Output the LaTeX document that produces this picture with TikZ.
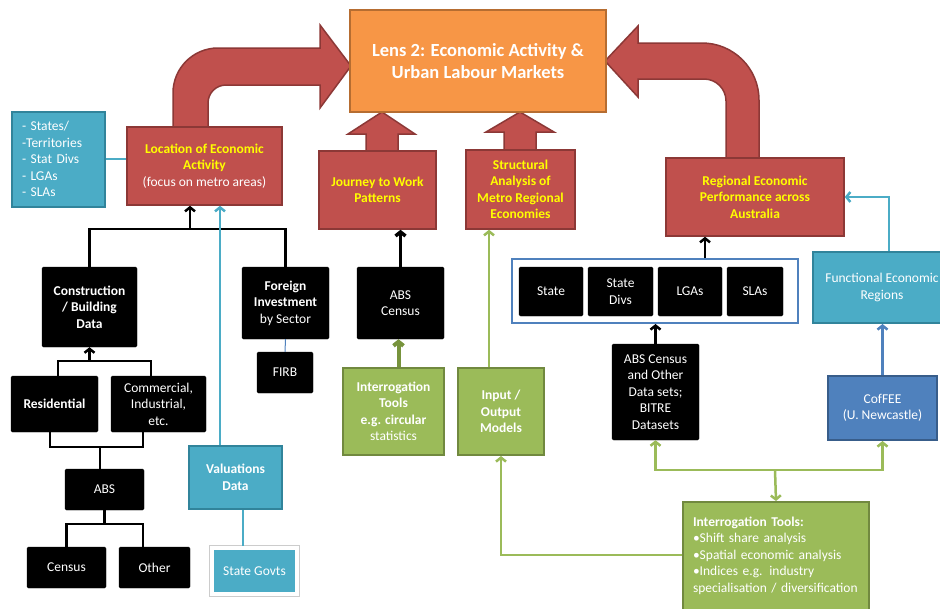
\documentclass[tikz,border=0pt]{standalone}
\usepackage{fontspec}
\setmainfont{Carlito}
\usetikzlibrary{arrows.meta}
\definecolor{redF}{HTML}{C0504D}
\definecolor{redD}{HTML}{8C3836}
\definecolor{orF}{HTML}{F79646}
\definecolor{orD}{HTML}{B66D31}
\definecolor{teF}{HTML}{4BACC6}
\definecolor{teD}{HTML}{31849B}
\definecolor{grF}{HTML}{9BBB59}
\definecolor{grD}{HTML}{71893F}
\definecolor{olv}{HTML}{77933C}
\definecolor{blF}{HTML}{4F81BD}
\definecolor{blD}{HTML}{385D8A}
\definecolor{yel}{HTML}{FFFF00}
\newcommand{\bxfont}{\fontsize{13.5}{16.5}\selectfont}
\begin{document}
\begin{tikzpicture}[x=1pt,y=-1pt,
  every node/.style={font=\bxfont, inner sep=2pt, align=center},
  redbox/.style={fill=redF, draw=redD, line width=1.5pt, text=yel, font=\bfseries\bxfont},
  orbox/.style={fill=orF, draw=orD, line width=1.5pt, text=white, font=\bfseries\fontsize{18.5}{22}\selectfont},
  tealbox/.style={fill=teF, draw=teD, line width=2pt, text=white},
  grnbox/.style={fill=grF, draw=grD, line width=2pt, text=white},
  bluebox/.style={fill=blF, draw=blD, line width=2pt, text=white},
  blkbox/.style={fill=black, draw=black, rounded corners=1.5pt, text=white},
  bigarrow/.style={fill=redF, draw=redD, line width=1.5pt, line join=miter},
  arr/.style={-{Straight Barb[length=4pt,width=10pt]}},
  arrboth/.style={{Straight Barb[length=4pt,width=10pt]}-{Straight Barb[length=4pt,width=10pt]}},
  blkline/.style={draw=black, line width=2.5pt},
  tealline/.style={draw=teF, line width=2.5pt},
  grnline/.style={draw=grF, line width=2.5pt},
  olvline/.style={draw=olv, line width=4pt},
  blueline/.style={draw=blF, line width=2.5pt},
  thinblue/.style={draw=blF, line width=1pt}
]
\useasboundingbox (0,0) rectangle (940,608);
\fill[white] (0,0) rectangle (940,608);

% big red arrows
\draw[bigarrow] (173,127) -- (173,93) .. controls (173,68.15) and (193.15,48) .. (218,48)
  -- (320,48) -- (320,25) -- (351,66) -- (320,108) -- (320,85) -- (226,85)
  .. controls (216.06,85) and (208,93.06) .. (208,103) -- (208,127) -- cycle;
\draw[bigarrow] (726,158) -- (726,101) .. controls (726,88.85) and (716.15,79) .. (704,79)
  -- (638,79) -- (638,97) -- (605,61) -- (638,26) -- (638,43) -- (702,43)
  .. controls (733.5,43) and (759,68.5) .. (759,100) -- (759,158) -- cycle;
\draw[bigarrow] (366,151) -- (366,134) -- (348,134) -- (382,112) -- (415,134) -- (398,134) -- (398,151) -- cycle;
\draw[bigarrow] (504,150) -- (504,132) -- (486,132) -- (520,112) -- (554,132) -- (536,132) -- (536,150) -- cycle;

% top nodes
\node[orbox, minimum width=256, minimum height=102] (lens) at (478,61) {Lens 2: Economic Activity \&\\Urban Labour Markets};
\node[tealbox, text width=73, align=left, inner xsep=10, minimum height=95] (states) at (58.5,159) {- States/\\-Territories\\- Stat Divs\\- LGAs\\- SLAs};
\node[redbox, minimum width=155, minimum height=78, text=white, font=\bxfont] (loc) at (204.5,166)
  {\textcolor{yel}{\textbf{Location of Economic}}\\\textcolor{yel}{\textbf{Activity}}\\(focus on metro areas)};
\node[redbox, minimum width=117, minimum height=78] (journey) at (377.5,190) {Journey to Work\\Patterns};
\node[redbox, minimum width=109, minimum height=79] (struct) at (520.5,189.5) {Structural\\Analysis of\\Metro Regional\\Economies};
\node[redbox, minimum width=178, minimum height=78] (regional) at (755,197) {Regional Economic\\Performance across\\Australia};

% left tree
\node[blkbox, minimum width=95, minimum height=80, font=\bfseries\bxfont] (constr) at (89.5,307) {Construction\\/ Building\\Data};
\node[blkbox, minimum width=87, minimum height=72] (foreign) at (285.5,303) {\textbf{Foreign}\\\textbf{Investment}\\by Sector};
\node[blkbox, minimum width=87, minimum height=72] (abscensus) at (400.5,303) {ABS\\Census};
\node[blkbox, minimum width=56, minimum height=41] (firb) at (285,372.5) {FIRB};
\node[blkbox, minimum width=87, minimum height=56, font=\bfseries\bxfont] (resid) at (54.5,404) {Residential};
\node[blkbox, minimum width=95, minimum height=56] (comm) at (158.5,404) {Commercial,\\Industrial,\\etc.};
\node[blkbox, minimum width=79, minimum height=41] (abs) at (104.5,489.5) {ABS};
\node[blkbox, minimum width=79, minimum height=41] (census) at (66.5,567.5) {Census};
\node[blkbox, minimum width=71, minimum height=41] (other) at (154.5,567.5) {Other};
\node[tealbox, minimum width=93, minimum height=63, font=\bfseries\bxfont] (valuations) at (235.5,477.5) {Valuations\\Data};
\node[fill=teF, draw=white, line width=4pt, preaction={draw=black!20, line width=6pt}, text=white,
  minimum width=85, minimum height=46] (sg) at (254.5,571) {State Govts};

% middle
\node[grnbox, minimum width=101, minimum height=87] (it1) at (393.5,411.5) {\textbf{Interrogation}\\\textbf{Tools}\\\textbf{e.g. circular}\\statistics};
\node[grnbox, minimum width=86, minimum height=87, font=\bfseries\bxfont] (io) at (501,411.5) {Input /\\Output\\Models};

% right
\node[draw=blF, line width=2pt, fill=white, minimum width=286, minimum height=64] (bigbox) at (655,291) {};
\node[blkbox, minimum width=64, minimum height=49] (state) at (551,291.5) {State};
\node[blkbox, minimum width=65, minimum height=49] (statedivs) at (620.5,291.5) {State\\Divs};
\node[blkbox, minimum width=64, minimum height=49] (lgas) at (690,291.5) {LGAs};
\node[blkbox, minimum width=56, minimum height=49] (slas) at (755,291.5) {SLAs};
\node[blkbox, minimum width=87, minimum height=96] (absother) at (655.5,392) {ABS Census\\and Other\\Data sets;\\BITRE\\Datasets};
\node[tealbox, minimum width=138, minimum height=71] (functional) at (882,287.5) {Functional Economic\\Regions};
\node[bluebox, minimum width=109, minimum height=64] (cofee) at (882.5,408) {CofFEE\\(U. Newcastle)};
\node[grnbox, anchor=north west, text width=166, align=left, inner xsep=10, inner ysep=15] (it2) at (682,501)
  {\textbf{Interrogation Tools:}\\•Shift share analysis\\•Spatial economic analysis\\•Indices e.g. industry\\specialisation / diversification\\~};

% connectors left
\draw[tealline] (states.east) -- (states.east -| loc.west);
\coordinate (jt) at (190,229);
\draw[blkline] (constr.north) -- (constr.north |- jt) -| (foreign.north);
\draw[blkline, arr] (jt) -- (jt |- loc.south);
\coordinate (jr) at (89.5,361);
\draw[blkline] ([xshift=3.5]resid.north) |- (jr) -| ([xshift=-7.5]comm.north);
\draw[blkline, arr] (jr) -- (constr.south);
\coordinate (jb) at (100,447);
\draw[blkline] ([xshift=-4.5]resid.south) |- (jb) -| ([xshift=-15.5]comm.south);
\draw[blkline] (jb) -- (jb |- abs.north);
\coordinate (ja) at (104.5,524);
\draw[blkline] (abs.south) -- (ja);
\draw[blkline] (census.north) |- (ja) -| ([xshift=-11.5]other.north);
\coordinate (vt) at ([xshift=-15.5]valuations.north);
\draw[tealline, arr] (vt) -- (vt |- loc.south);
\coordinate (vb) at ([xshift=7.5]valuations.south);
\draw[tealline] (vb) -- (vb |- sg.north);
\draw[thinblue] (foreign.south) -- (firb.north);

% connectors middle
\draw[blkline, line width=3.5pt, arr] (abscensus.north) -- (abscensus.north |- journey.south);
\coordinate (it1t) at ([xshift=5]it1.north);
\draw[olvline, arr] (it1t) -- (it1t |- abscensus.south);
\coordinate (iot) at ([xshift=-12]io.north);
\draw[grnline, arr] (iot) -- (iot |- struct.south);
\coordinate (it2w) at ([yshift=-54]it2.north west);
\draw[grnline, arr] (it2w) -| (io.south);

% connectors right
\coordinate (jg) at (775,470);
\draw[grnline, arr] (jg) -- (it2.north);
\draw[grnline, arrboth] (absother.south) |- (jg) -| (cofee.south);
\draw[blkline, arr] (absother.north) -- (absother.north |- bigbox.south);
\coordinate (bbt) at ([xshift=50]bigbox.north);
\draw[blkline, arr] (bbt) -- (bbt |- regional.south);
\draw[blueline, arr] (cofee.north) -- (cofee.north |- functional.south);
\draw[tealline, arr] ([xshift=7]functional.north) |- (regional.east);
\end{tikzpicture}
\end{document}
